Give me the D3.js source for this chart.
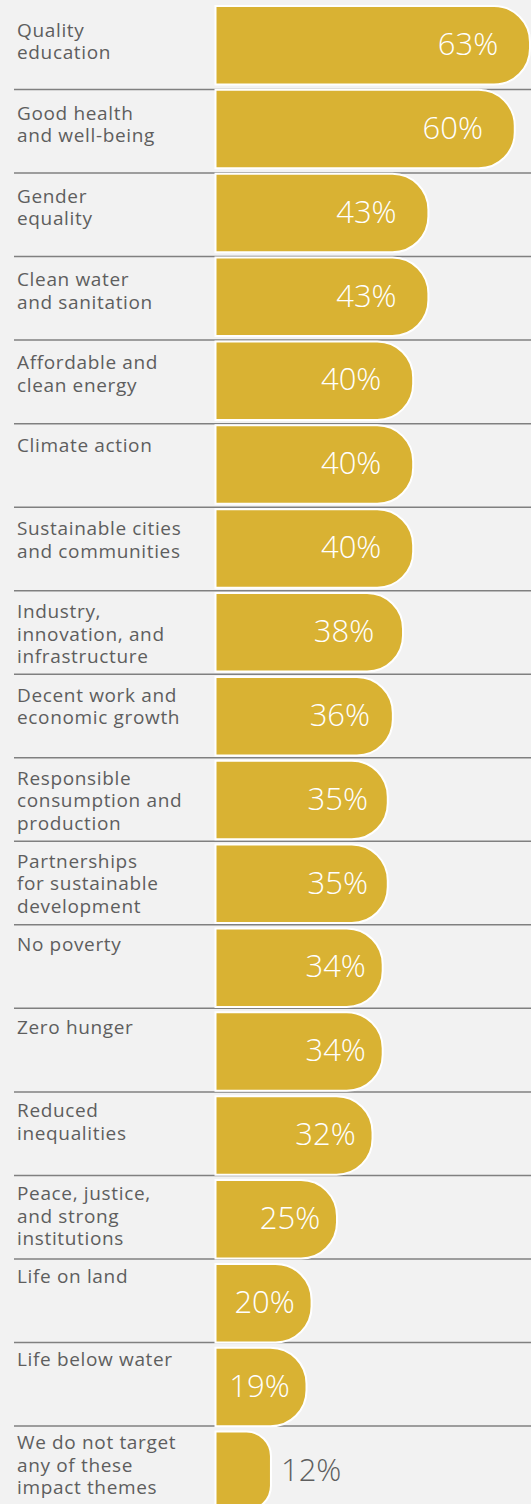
<!DOCTYPE html>
<html>
<head>
<meta charset="utf-8">
<script src="https://cdn.jsdelivr.net/npm/d3@7"></script>
<style>
  html, body { margin: 0; padding: 0; background: #f2f2f2; }
  svg { display: block; }
</style>
</head>
<body>
<div id="chart"></div>
<script>
// Impact themes targeted, share of respondents
const categories = [
  "Quality\neducation",
  "Good health\nand well-being",
  "Gender\nequality",
  "Clean water\nand sanitation",
  "Affordable and\nclean energy",
  "Climate action",
  "Sustainable cities\nand communities",
  "Industry,\ninnovation, and\ninfrastructure",
  "Decent work and\neconomic growth",
  "Responsible\nconsumption and\nproduction",
  "Partnerships\nfor sustainable\ndevelopment",
  "No poverty",
  "Zero hunger",
  "Reduced\ninequalities",
  "Peace, justice,\nand strong\ninstitutions",
  "Life on land",
  "Life below water",
  "We do not target\nany of these\nimpact themes"
];
const values = [63, 60, 43, 43, 40, 40, 40, 38, 36, 35, 35, 34, 34, 32, 25, 20, 19, 12];

const width = 531, height = 1504;
const barLeft = 215.5;
const n = categories.length;

const svg = d3.select("#chart").append("svg")
  .attr("width", width)
  .attr("height", height);

svg.append("rect").attr("width", width).attr("height", height).attr("fill", "#f2f2f2");

// bar rows
const y = d3.scaleBand()
  .domain(categories)
  .range([6, 6 + 83.86 * n]);

// separator rows (grid runs on a slightly tighter pitch)
const ySep = d3.scaleBand()
  .domain(categories)
  .range([6, 6 + 83.53 * n]);

// label rows (first-line baselines)
const yLab = d3.scaleBand()
  .domain(categories)
  .range([36.7, 36.7 + 83.1 * n]);

const x = d3.scaleLinear().domain([0, 63]).range([210, 530]);

const data = categories.map((c, i) => ({ cat: c, value: values[i] }));

// row separators at the top edge of every row but the first
svg.append("g").selectAll("line")
  .data(categories.slice(1))
  .join("line")
  .attr("x1", 14).attr("x2", width)
  .attr("y1", d => ySep(d))
  .attr("y2", d => ySep(d))
  .attr("stroke", "#808080")
  .attr("stroke-width", 1.5);

// bar shape: square on the left, rounded on the right
function barPath(x0, x1, y0, y1) {
  const w = x1 - x0, h = y1 - y0;
  const r = Math.min(36, w * 0.44, h / 2);
  return `M${x0},${y0}H${x1 - r}A${r},${r} 0 0 1 ${x1},${y0 + r}` +
         `V${y1 - r}A${r},${r} 0 0 1 ${x1 - r},${y1}H${x0}Z`;
}

const barH = 78.5;

const rows = svg.append("g").selectAll("g")
  .data(data)
  .join("g");

rows.append("path")
  .attr("d", d => barPath(barLeft, x(d.value), y(d.cat), y(d.cat) + barH))
  .attr("fill", "#d9b233")
  .attr("stroke", "#ffffff")
  .attr("stroke-width", 2);

// category labels
rows.append("text")
  .attr("x", 17)
  .attr("y", d => yLab(d.cat))
  .attr("fill", "#5e5e5e")
  .style("font-family", "'Open Sans', sans-serif")
  .style("font-size", "19px")
  .style("letter-spacing", "0.65px")
  .selectAll("tspan")
  .data(d => d.cat.split("\n"))
  .join("tspan")
  .attr("x", 17)
  .attr("dy", (d, i) => i === 0 ? 0 : 22.5)
  .text(d => d);

// value labels: inside the bar when it is wide enough, otherwise just past its end
const inside = d => (x(d.value) - barLeft) > 80;
const centreOffset = v => Math.min(62, 47 + 3 * Math.max(0, v - 34));

rows.append("text")
  .attr("x", d => inside(d) ? x(d.value) - centreOffset(d.value) : x(d.value) + 10)
  .attr("y", d => y(d.cat) + 49)
  .attr("text-anchor", d => inside(d) ? "middle" : "start")
  .attr("fill", d => inside(d) ? "#ffffff" : "#5e5e5e")
  .style("font-family", "'Open Sans', sans-serif")
  .style("font-weight", 300)
  .style("font-size", "31px")
  .text(d => d.value + "%");
</script>
</body>
</html>
